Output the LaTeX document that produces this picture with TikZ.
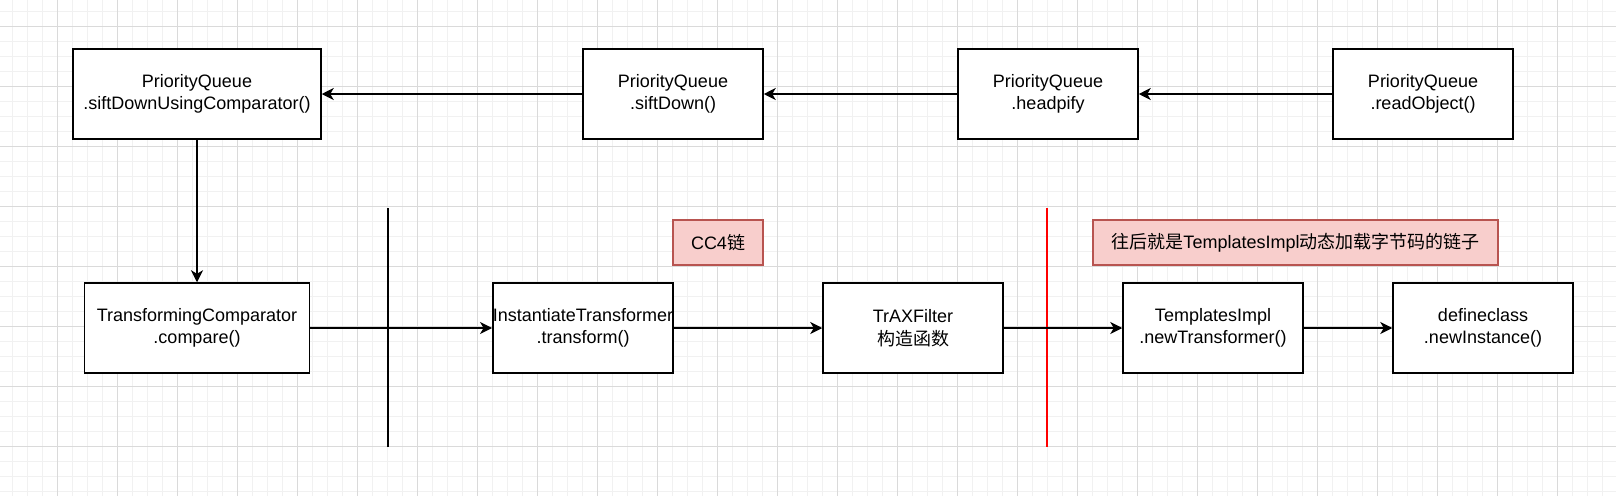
\documentclass[tikz,border=0pt]{standalone}
\usepackage{fontspec}
\setmainfont{Liberation Sans}
\newfontfamily\cjk{Noto Sans CJK SC}
\usetikzlibrary{arrows.meta}
\definecolor{gridmajor}{RGB}{218,218,218}
\definecolor{gridminor}{RGB}{241,241,241}
\definecolor{notefill}{RGB}{248,206,204}
\definecolor{notedraw}{RGB}{184,84,80}

\begin{document}
\begin{tikzpicture}[x=1pt,y=-1pt,
        box/.style={draw=black,fill=white,line width=1.5pt,inner sep=0pt,align=center,minimum height=90pt,font=\fontsize{18}{22.5}\selectfont},
        note/.style={draw=notedraw,fill=notefill,line width=1.5pt,inner sep=0pt,minimum height=45pt,font=\fontsize{18}{22.5}\selectfont},
        link/.style={line width=1.5pt,-{Stealth[length=12pt,width=12pt,inset=3.5pt]}}]
        %背景网格;
        \useasboundingbox (0,0) rectangle (1616,496);
        \fill [white] (0,0) rectangle (1616,496);
        \foreach \i in {0,...,107} \draw [gridminor,line width=1pt] (12.7+15*\i,0) -- (12.7+15*\i,496);
        \foreach \i in {0,...,32} \draw [gridminor,line width=1pt] (0,11.7+15*\i) -- (1616,11.7+15*\i);
        \foreach \i in {0,...,26} \draw [gridmajor,line width=1pt] (57.7+60*\i,0) -- (57.7+60*\i,496);
        \foreach \i in {0,...,7} \draw [gridmajor,line width=1pt] (0,26.7+60*\i) -- (1616,26.7+60*\i);

        %PriorityQueue 调用链
        \node [box,minimum width=248pt] (siftcmp) at (197,94) {PriorityQueue\\.siftDownUsingComparator()};
        \node [box,minimum width=180pt] (siftdown) at (673,94) {PriorityQueue\\.siftDown()};
        \node [box,minimum width=180pt] (heapify) at (1048,94) {PriorityQueue\\.headpify};
        \node [box,minimum width=180pt] (readobj) at (1423,94) {PriorityQueue\\.readObject()};

        %下面一行
        \node [box,minimum width=225pt] (compare) at (197,328) {TransformingComparator\\.compare()};
        \node [box,minimum width=180pt] (instantiate) at (583,328) {InstantiateTransformer\\.transform()};
        \node [box,minimum width=180pt] (trax) at (913,328) {TrAXFilter\\{\cjk 构造函数}};
        \node [box,minimum width=180pt] (templates) at (1213,328) {TemplatesImpl\\.newTransformer()};
        \node [box,minimum width=180pt] (defineclass) at (1483,328) {defineclass\\.newInstance()};

        %说明
        \node [note,minimum width=90pt] (cc4) at (718,242.5) {CC4{\cjk 链}};
        \node [note,minimum width=405pt] (later) at (1295.5,242.5) {{\cjk 往后就是}TemplatesImpl{\cjk 动态加载字节码的链子}};

        %分隔线
        \coordinate (blacktop) at (388,208);
        \coordinate (blackbot) at (388,447);
        \coordinate (redtop) at (1047,208);
        \coordinate (redbot) at (1047,447);
        \draw [line width=1.5pt] (blacktop) -- (blackbot);
        \draw [red,line width=1.2pt] (redtop) -- (redbot);

        %箭头
        \draw [link] (readobj) -- (heapify);
        \draw [link] (heapify) -- (siftdown);
        \draw [link] (siftdown) -- (siftcmp);
        \draw [link] (siftcmp) -- (compare);
        \draw [link] (compare) -- (instantiate);
        \draw [link] (instantiate) -- (trax);
        \draw [link] (trax) -- (templates);
        \draw [link] (templates) -- (defineclass);
\end{tikzpicture}
\end{document}
